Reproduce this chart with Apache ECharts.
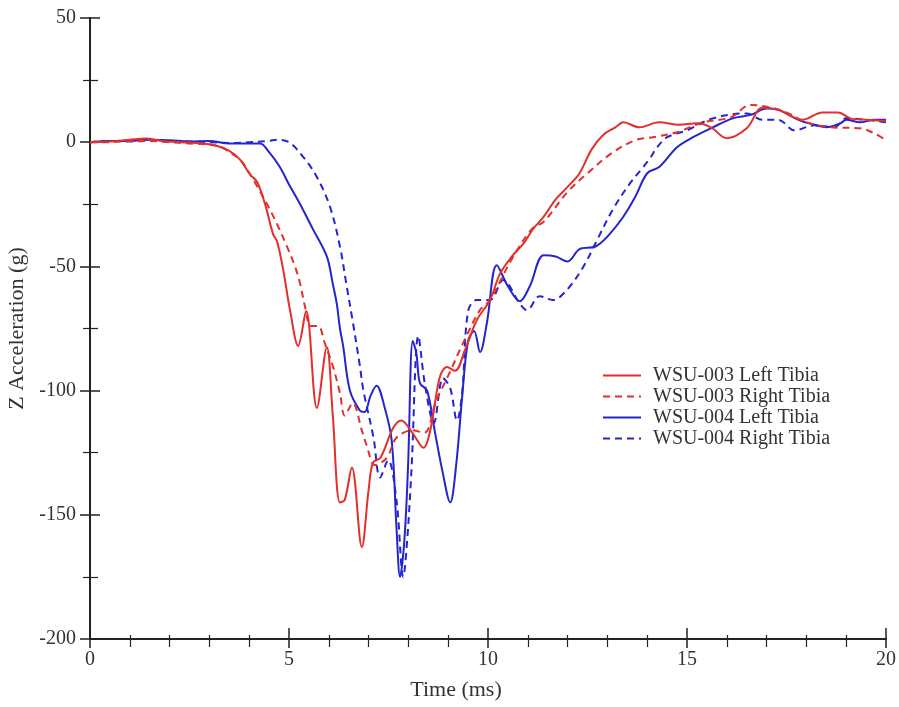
<!DOCTYPE html>
<html>
<head>
<meta charset="utf-8">
<script src="https://cdn.jsdelivr.net/npm/echarts@6/dist/echarts.min.js"></script>
<style>
html,body{margin:0;padding:0;background:#fff;}
#chart{width:899px;height:707px;}
</style>
</head>
<body>
<div id="chart"></div>
<script>
// Time (ms), Z acceleration (g)
var seriesNames = ['WSU-003 Left Tibia', 'WSU-003 Right Tibia', 'WSU-004 Left Tibia', 'WSU-004 Right Tibia'];

var wsu003Left = [[0,0],[0.5,0.3],[1.0,1],[1.4,1.5],[1.8,0.5],[2.3,0],[2.8,-0.5],[3.2,-1.5],[3.5,-3.5],[3.77,-7],[4.02,-13],[4.2,-16],[4.4,-25],[4.6,-37],[4.7,-40],[4.85,-51],[5.03,-68],[5.23,-82],[5.43,-68],[5.7,-107],[5.95,-82.5],[6.1,-110],[6.28,-145],[6.4,-144],[6.58,-131],[6.83,-163],[7.0,-140],[7.11,-129],[7.3,-127],[7.62,-115],[7.82,-112],[8.1,-117],[8.38,-123],[8.55,-116],[8.79,-94.5],[8.97,-90.5],[9.17,-92],[9.42,-83.7],[9.72,-71.6],[10.05,-63.5],[10.3,-53],[10.6,-46],[10.9,-40.6],[11.13,-35],[11.4,-30],[11.7,-23],[12.0,-18],[12.3,-12.5],[12.6,-3],[12.9,3],[13.2,6],[13.4,8],[13.8,6],[14.3,8],[14.8,7],[15.25,7.6],[15.6,6],[16.0,1.6],[16.5,5.6],[16.9,14],[17.3,13],[17.9,9],[18.4,12],[18.8,12],[19.1,9.6],[19.5,9],[20,8.5]];

var wsu003Right = [[0,0],[0.5,0],[1.0,0.5],[1.5,0.5],[2.0,0],[2.5,-0.5],[3.0,-1],[3.3,-2],[3.5,-4],[3.77,-7],[4.1,-15],[4.45,-25],[4.7,-33],[4.95,-42],[5.15,-50],[5.28,-57],[5.4,-66],[5.55,-74],[5.73,-74],[5.9,-81],[6.1,-90],[6.28,-101],[6.4,-110],[6.6,-105],[6.83,-116],[6.95,-122],[7.16,-130],[7.46,-127],[7.7,-119],[8.1,-116],[8.4,-117],[8.7,-104],[9.0,-94],[9.4,-80],[9.8,-67.5],[10.05,-63.5],[10.6,-47],[11.1,-35],[11.4,-32],[12.0,-20],[12.5,-12.5],[13.1,-4.5],[13.7,0.8],[14.15,2],[14.75,4],[15.4,8],[16.1,10],[16.6,15],[17.1,14],[17.5,12],[18.0,8],[18.6,6],[19.35,5.6],[19.7,3.6],[20,0.8]];

var wsu004Left = [[0,0],[0.5,0.5],[1.0,0.5],[1.5,1],[2.0,0.8],[2.5,0.3],[3.0,0.5],[3.5,-0.5],[4.0,-0.5],[4.27,-0.5],[4.5,-4],[4.77,-10],[5.0,-17],[5.28,-25],[5.6,-35],[5.95,-46],[6.1,-57],[6.2,-65],[6.28,-75],[6.36,-82],[6.53,-100],[6.78,-108],[6.9,-108.6],[7.05,-102],[7.2,-98],[7.4,-106.6],[7.58,-120],[7.7,-155],[7.79,-175],[7.9,-160],[7.99,-131],[8.11,-80],[8.2,-85],[8.29,-97],[8.47,-100],[8.67,-117],[8.85,-132],[9.05,-145],[9.2,-130],[9.35,-102.6],[9.5,-80],[9.65,-76],[9.8,-84.5],[9.97,-73],[10.22,-49.5],[10.5,-58],[10.8,-64],[11.05,-58],[11.4,-45.5],[11.7,-46],[12.0,-48],[12.3,-43],[12.7,-42],[13.0,-38],[13.4,-30],[13.7,-22],[14.0,-12.5],[14.3,-10],[14.75,-2],[15.15,2],[15.65,6],[16.15,9.6],[16.6,11],[17.0,13.6],[17.3,13],[17.8,9],[18.2,7],[18.5,6],[18.85,7.6],[19.0,9],[19.35,8],[19.7,9],[20,9]];

var wsu004Right = [[0,0],[0.5,0.5],[1.0,0.3],[1.5,0.5],[2.0,0.5],[2.5,0.3],[3.0,0],[3.5,-0.3],[4.0,0],[4.5,0.5],[4.7,1],[5.0,0],[5.36,-6],[5.7,-14],[6.03,-26],[6.28,-42],[6.45,-58],[6.6,-72],[6.78,-90],[6.87,-100],[7.12,-118.6],[7.29,-135],[7.49,-128],[7.7,-144],[7.87,-175],[7.97,-160],[8.08,-131],[8.25,-78],[8.42,-98],[8.64,-113],[8.87,-95],[9.05,-99],[9.22,-112],[9.35,-101],[9.5,-68],[9.72,-63.5],[10.05,-63.5],[10.38,-55.5],[10.8,-65],[10.98,-67.6],[11.3,-62],[11.63,-63.5],[11.98,-59.5],[12.4,-50],[12.74,-39.4],[13.14,-27],[13.57,-16.5],[13.9,-10],[14.07,-6.5],[14.25,-2],[14.5,2],[15.0,4.8],[15.65,9.6],[16.5,11.6],[16.9,9],[17.3,9],[17.7,4.8],[18.2,6.8],[18.7,6],[19.0,9.6],[19.5,9],[20,8]];

var seriesData = [wsu003Left, wsu003Right, wsu004Left, wsu004Right];
var seriesColors = ['#e2302a', '#e2302a', '#2424d0', '#2424d0'];
var seriesDashed = [false, true, false, true];

var FONT = '"Liberation Serif", "Times New Roman", serif';
var chart = echarts.init(document.getElementById('chart'), null, {renderer: 'canvas'});

var axisCommon = {
  type: 'value',
  splitLine: {show: false},
  minorSplitLine: {show: false}
};

var option = {
  animation: false,
  backgroundColor: '#ffffff',
  grid: {left: 90, right: 13, top: 18, bottom: 68, containLabel: false, outerBoundsMode: 'none'},
  legend: {
    left: 602, top: 365, orient: 'vertical', padding: 0,
    itemWidth: 38, itemHeight: 14, itemGap: 0,
    itemStyle: {opacity: 0},
    data: seriesNames,
    textStyle: {fontFamily: FONT, fontSize: 20, color: '#333', lineHeight: 21, padding: [0,0,0,7]}
  },
  xAxis: [
    Object.assign({}, axisCommon, {
      min: 0, max: 20, interval: 5,
      name: 'Time (ms)', nameLocation: 'middle', nameGap: 40,
      nameTextStyle: {fontFamily: FONT, fontSize: 22, color: '#333', padding: [0, 64, 0, 0]},
      axisLine: {show: true, onZero: false, lineStyle: {color: '#222', width: 2}},
      axisTick: {show: true, inside: false, length: 9, lineStyle: {color: '#222', width: 1.5}},
      minorTick: {show: true, splitNumber: 5, length: 8, lineStyle: {color: '#222', width: 1.2}},
      axisLabel: {fontFamily: FONT, fontSize: 20, color: '#333', margin: 11}
    }),
    Object.assign({}, axisCommon, {
      min: 0, max: 20, interval: 5, position: 'bottom',
      axisLine: {show: false, onZero: false},
      axisTick: {show: true, inside: true, length: 11, lineStyle: {color: '#222', width: 1.5}},
      minorTick: {show: true, splitNumber: 5, length: 4, lineStyle: {color: '#222', width: 1.2}},
      axisLabel: {show: false}
    })
  ],
  yAxis: [
    Object.assign({}, axisCommon, {
      min: -200, max: 50, interval: 50,
      name: 'Z Acceleration (g)', nameLocation: 'middle', nameGap: 60,
      nameTextStyle: {fontFamily: FONT, fontSize: 22, color: '#333'},
      axisLine: {show: true, onZero: false, lineStyle: {color: '#222', width: 2}},
      axisTick: {show: true, inside: false, length: 10, lineStyle: {color: '#222', width: 1.5}},
      minorTick: {show: true, splitNumber: 2, length: 7, lineStyle: {color: '#222', width: 1.2}},
      axisLabel: {fontFamily: FONT, fontSize: 20, color: '#333', margin: 14}
    }),
    Object.assign({}, axisCommon, {
      min: -200, max: 50, interval: 50, position: 'left',
      axisLine: {show: false, onZero: false},
      axisTick: {show: true, inside: true, length: 10, lineStyle: {color: '#222', width: 1.5}},
      minorTick: {show: true, splitNumber: 2, length: 8, lineStyle: {color: '#222', width: 1.2}},
      axisLabel: {show: false}
    })
  ],
  series: seriesNames.map(function (name, i) {
    return {
      name: name,
      type: 'line',
      xAxisIndex: 0,
      yAxisIndex: 0,
      data: seriesData[i],
      symbol: 'none',
      showSymbol: false,
      smooth: 0.35,
      color: seriesColors[i],
      lineStyle: {color: seriesColors[i], width: 2, type: seriesDashed[i] ? [7, 5] : 'solid'},
      z: 2 + (3 - i)
    };
  })
};
chart.setOption(option);
</script>
</body>
</html>
